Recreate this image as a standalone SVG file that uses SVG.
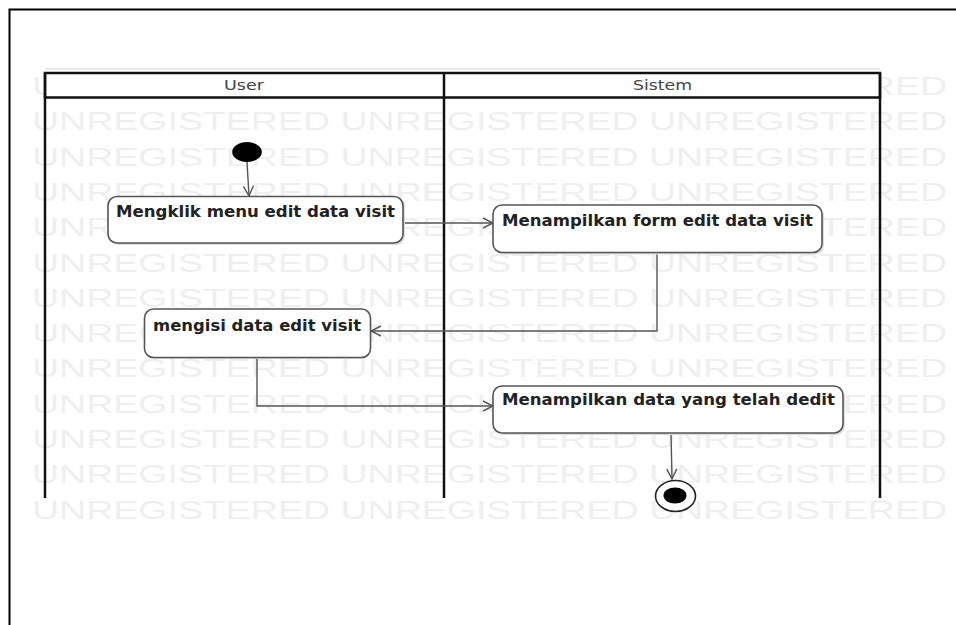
<svg xmlns="http://www.w3.org/2000/svg" width="956" height="625" viewBox="0 0 956 625">
<style>
.wm{font-family:"Liberation Sans",Arial,sans-serif;font-size:25px;fill:#efefef}
.lane{stroke:#111;stroke-width:2.5;fill:none}
.hdrbox{stroke:#111;stroke-width:2.5;fill:#fff}
.hdr{font-family:"DejaVu Sans","Liberation Sans",sans-serif;font-size:14px;fill:#444}
.act{fill:#fff;stroke:#555;stroke-width:1.6}
.shadow{fill:#dcdcdc}
.lbl{font-family:"DejaVu Sans","Liberation Sans",sans-serif;font-weight:bold;font-size:15px;fill:#222}
.edge{stroke:#555;stroke-width:1.4;fill:none}
</style>
<defs>
<marker id="arr" viewBox="0 0 12 12" refX="11" refY="6" markerWidth="12" markerHeight="12" markerUnits="userSpaceOnUse" orient="auto">
<path d="M1,1 L11,6 L1,11" fill="none" stroke="#555" stroke-width="1.4"/>
</marker>
</defs>
<rect width="956" height="625" fill="#fff"/>
<path d="M9.5,625 V9.5 H956" fill="none" stroke="#000" stroke-width="2"/>
<g id="watermark">
<text class="wm" x="32" y="95" textLength="915" lengthAdjust="spacingAndGlyphs">UNREGISTERED UNREGISTERED UNREGISTERED</text>
<text class="wm" x="32" y="130.3" textLength="915" lengthAdjust="spacingAndGlyphs">UNREGISTERED UNREGISTERED UNREGISTERED</text>
<text class="wm" x="32" y="165.6" textLength="915" lengthAdjust="spacingAndGlyphs">UNREGISTERED UNREGISTERED UNREGISTERED</text>
<text class="wm" x="32" y="200.9" textLength="915" lengthAdjust="spacingAndGlyphs">UNREGISTERED UNREGISTERED UNREGISTERED</text>
<text class="wm" x="32" y="236.2" textLength="915" lengthAdjust="spacingAndGlyphs">UNREGISTERED UNREGISTERED UNREGISTERED</text>
<text class="wm" x="32" y="271.5" textLength="915" lengthAdjust="spacingAndGlyphs">UNREGISTERED UNREGISTERED UNREGISTERED</text>
<text class="wm" x="32" y="306.8" textLength="915" lengthAdjust="spacingAndGlyphs">UNREGISTERED UNREGISTERED UNREGISTERED</text>
<text class="wm" x="32" y="342.1" textLength="915" lengthAdjust="spacingAndGlyphs">UNREGISTERED UNREGISTERED UNREGISTERED</text>
<text class="wm" x="32" y="377.4" textLength="915" lengthAdjust="spacingAndGlyphs">UNREGISTERED UNREGISTERED UNREGISTERED</text>
<text class="wm" x="32" y="412.7" textLength="915" lengthAdjust="spacingAndGlyphs">UNREGISTERED UNREGISTERED UNREGISTERED</text>
<text class="wm" x="32" y="448" textLength="915" lengthAdjust="spacingAndGlyphs">UNREGISTERED UNREGISTERED UNREGISTERED</text>
<text class="wm" x="32" y="483.3" textLength="915" lengthAdjust="spacingAndGlyphs">UNREGISTERED UNREGISTERED UNREGISTERED</text>
<text class="wm" x="32" y="518.6" textLength="915" lengthAdjust="spacingAndGlyphs">UNREGISTERED UNREGISTERED UNREGISTERED</text>
</g>
<g id="swimlanes">
<line x1="45" y1="69" x2="880" y2="69" stroke="#e2e2e2" stroke-width="1.5"/>
<rect class="hdrbox" x="45" y="73" width="835" height="24.5"/>
<line class="lane" x1="45" y1="73" x2="45" y2="498"/>
<line class="lane" x1="444" y1="73" x2="444" y2="498"/>
<line class="lane" x1="880" y1="73" x2="880" y2="498"/>
<text class="hdr" x="224" y="89.5" textLength="40" lengthAdjust="spacingAndGlyphs">User</text>
<text class="hdr" x="633" y="89.5" textLength="59" lengthAdjust="spacingAndGlyphs">Sistem</text>
</g>
<g id="connectors">
<path class="edge" d="M247,162 L249,196" marker-end="url(#arr)"/>
<path class="edge" d="M403,223 H493" marker-end="url(#arr)"/>
<path class="edge" d="M657,253 V331 H371" marker-end="url(#arr)"/>
<path class="edge" d="M257,358 V406 H493" marker-end="url(#arr)"/>
<path class="edge" d="M671,433 L672,479" marker-end="url(#arr)"/>
</g>
<g id="start">
<ellipse cx="247" cy="152" rx="14.8" ry="10" fill="#000"/>
</g>
<g id="n1">
<rect class="shadow" x="110" y="198" width="295" height="47" rx="9"/>
<rect class="act" x="108" y="196.5" width="295" height="46.5" rx="9"/>
<text class="lbl" x="116" y="216.5" textLength="279" lengthAdjust="spacingAndGlyphs">Mengklik menu edit data visit</text>
</g>
<g id="n2">
<rect class="shadow" x="495" y="207" width="329" height="47.5" rx="9"/>
<rect class="act" x="493" y="205" width="329" height="47.5" rx="9"/>
<text class="lbl" x="502" y="226" textLength="311" lengthAdjust="spacingAndGlyphs">Menampilkan form edit data visit</text>
</g>
<g id="n3">
<rect class="shadow" x="146" y="311" width="225" height="48" rx="9"/>
<rect class="act" x="144.5" y="309" width="226" height="48.5" rx="9"/>
<text class="lbl" x="153" y="330.5" textLength="208" lengthAdjust="spacingAndGlyphs">mengisi data edit visit</text>
</g>
<g id="n4">
<rect class="shadow" x="495" y="388" width="350" height="47" rx="9"/>
<rect class="act" x="493" y="386" width="350" height="47" rx="9"/>
<text class="lbl" x="502" y="405" textLength="333" lengthAdjust="spacingAndGlyphs">Menampilkan data yang telah dedit</text>
</g>
<g id="end">
<ellipse cx="675.5" cy="496" rx="20" ry="15.5" fill="#fff" stroke="#222" stroke-width="1.6"/>
<ellipse cx="675" cy="495.5" rx="11.5" ry="8" fill="#000"/>
</g>
</svg>
